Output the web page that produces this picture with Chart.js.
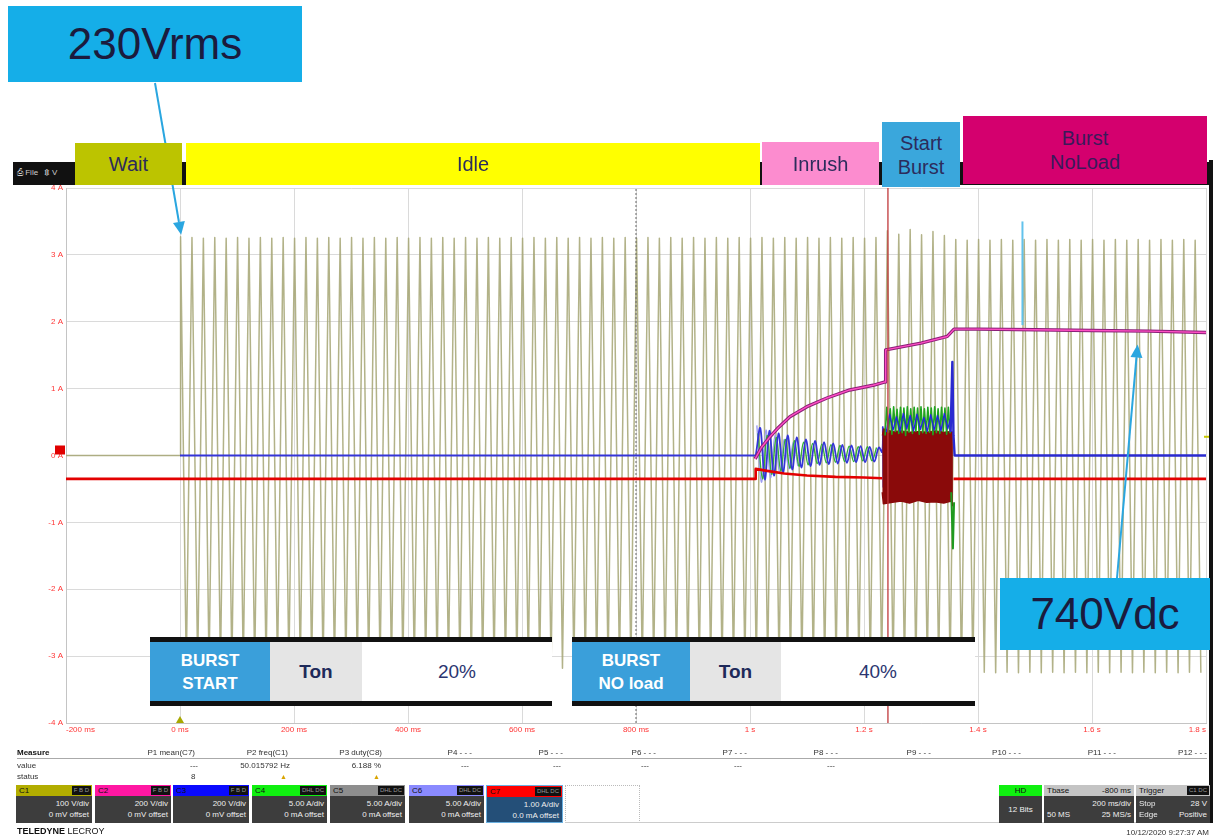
<!DOCTYPE html>
<html><head><meta charset="utf-8">
<script src="https://cdn.jsdelivr.net/npm/chart.js@4.4.1/dist/chart.umd.min.js"></script>
<style>
html,body{margin:0;padding:0;background:#fff;}
#wrap{position:relative;width:1216px;height:839px;overflow:hidden;font-family:"Liberation Sans",Arial,sans-serif;}
#c{position:absolute;left:0;top:0;}
.abs{position:absolute;box-sizing:border-box;}
.lbl{position:absolute;box-sizing:border-box;display:flex;align-items:center;justify-content:center;text-align:center;font-size:20px;line-height:24px;color:#2c2c5c;}
.big{font-size:44px;color:#1b1b3e;}
.tbl{position:absolute;top:637px;height:69px;border-top:5px solid #111;border-bottom:5px solid #111;box-sizing:border-box;display:flex;background:#fff;}
.tbl div{display:flex;align-items:center;justify-content:center;text-align:center;}
.tb{background:#3a9fda;color:#fff;font-weight:bold;font-size:17px;line-height:23px;}
.tg{background:#e5e5e5;color:#1e2a5a;font-weight:bold;font-size:19px;}
.tw{color:#2b3570;font-size:19px;flex:1;}
.sm{position:absolute;font-size:8px;line-height:10px;color:#333;white-space:nowrap;}
.r{text-align:right;}
.ch{position:absolute;top:785px;height:38px;font-size:8px;box-sizing:border-box;}
.chh{height:11px;position:relative;padding-left:3px;line-height:11px;color:#111;}
.bdg{position:absolute;right:1px;top:1px;height:9px;background:#111;color:#999;font-size:6px;line-height:9px;padding:0 2px;font-weight:normal;}
.chb{background:#3d3d3d;color:#eee;text-align:right;padding:2px 3px 0 0;height:27px;box-sizing:border-box;line-height:11px;}
</style></head>
<body>
<div id="wrap">
<canvas id="c" width="1216" height="839"></canvas>

<!-- toolbar strip -->
<div class="abs" style="left:13px;top:162px;width:1199px;height:23px;background:#111;"></div>
<div class="sm" style="left:17px;top:168px;color:#ccc;">&#9113; File &nbsp; &#8661; V</div>
<div class="abs" style="left:1209px;top:160px;width:4px;height:663px;background:#111;"></div>

<!-- phase labels -->
<div class="lbl" style="left:75px;top:143px;width:107px;height:42px;background:#bcc400;">Wait</div>
<div class="lbl" style="left:186px;top:143px;width:574px;height:42px;background:#ffff00;">Idle</div>
<div class="lbl" style="left:762px;top:142px;width:117px;height:43px;background:#fc8ccf;">Inrush</div>
<div class="lbl" style="left:882px;top:122px;width:78px;height:65px;background:#3aa7dc;">Start<br>Burst</div>
<div class="lbl" style="left:963px;top:116px;width:244px;height:68px;background:#d4006e;color:#3a1a5a;">Burst<br>NoLoad</div>

<div class="lbl big" style="left:8px;top:6px;width:294px;height:76px;background:#15aee8;">230Vrms</div>
<div class="lbl big" style="left:1000px;top:578px;width:210px;height:72px;background:#15aee8;">740Vdc</div>

<!-- burst tables -->
<div class="tbl" style="left:150px;width:402px;">
  <div class="tb" style="width:120px;">BURST<br>START</div>
  <div class="tg" style="width:92px;">Ton</div>
  <div class="tw">20%</div>
</div>
<div class="tbl" style="left:572px;width:403px;">
  <div class="tb" style="width:118px;">BURST<br>NO load</div>
  <div class="tg" style="width:91px;">Ton</div>
  <div class="tw">40%</div>
</div>

<!-- measure table -->
<div class="abs" style="left:17px;top:758px;width:1190px;height:1px;background:#aaa;"></div>
<div class="sm" style="left:17px;top:748px;font-weight:bold;color:#111;">Measure</div>
<div class="sm" style="left:17px;top:761px;">value</div>
<div class="sm" style="left:17px;top:772px;">status</div>
<div class="sm r" style="left:95px;width:100px;top:748px;">P1 mean(C7)</div>
<div class="sm r" style="left:188px;width:100px;top:748px;">P2 freq(C1)</div>
<div class="sm r" style="left:282px;width:100px;top:748px;">P3 duty(C8)</div>
<div class="sm r" style="left:372px;width:100px;top:748px;">P4 - - -</div>
<div class="sm r" style="left:463px;width:100px;top:748px;">P5 - - -</div>
<div class="sm r" style="left:556px;width:100px;top:748px;">P6 - - -</div>
<div class="sm r" style="left:647px;width:100px;top:748px;">P7 - - -</div>
<div class="sm r" style="left:738px;width:100px;top:748px;">P8 - - -</div>
<div class="sm r" style="left:831px;width:100px;top:748px;">P9 - - -</div>
<div class="sm r" style="left:921px;width:100px;top:748px;">P10 - - -</div>
<div class="sm r" style="left:1016px;width:100px;top:748px;">P11 - - -</div>
<div class="sm r" style="left:1107px;width:100px;top:748px;">P12 - - -</div>
<div class="sm r" style="left:98px;width:100px;top:761px;">---</div>
<div class="sm r" style="left:190px;width:100px;top:761px;">50.015792 Hz</div>
<div class="sm r" style="left:281px;width:100px;top:761px;">6.188 %</div>
<div class="sm" style="left:461px;top:761px;">---</div>
<div class="sm" style="left:553px;top:761px;">---</div>
<div class="sm" style="left:641px;top:761px;">---</div>
<div class="sm" style="left:734px;top:761px;">---</div>
<div class="sm" style="left:827px;top:761px;">---</div>
<div class="sm" style="left:191px;top:772px;">8</div>
<div class="sm" style="left:280px;top:772px;color:#d9a400;font-size:7px;">&#9650;</div>
<div class="sm" style="left:373px;top:772px;color:#d9a400;font-size:7px;">&#9650;</div>

<!-- channel boxes -->
<div class="ch" style="left:16px;width:76px;"><div class="chh" style="background:#b2ad00;">C1<b class="bdg">F B D</b></div><div class="chb">100 V/div<br>0 mV offset</div></div>
<div class="ch" style="left:95px;width:76px;"><div class="chh" style="background:#ff17a2;">C2<b class="bdg">F B D</b></div><div class="chb">200 V/div<br>0 mV offset</div></div>
<div class="ch" style="left:173px;width:76px;"><div class="chh" style="background:#0a0aff;">C3<b class="bdg">F B D</b></div><div class="chb">200 V/div<br>0 mV offset</div></div>
<div class="ch" style="left:252px;width:75px;"><div class="chh" style="background:#10f010;">C4<b class="bdg">DHL DC</b></div><div class="chb">5.00 A/div<br>0 mA offset</div></div>
<div class="ch" style="left:330px;width:75px;"><div class="chh" style="background:#8e8e8e;">C5<b class="bdg">DHL DC</b></div><div class="chb">5.00 A/div<br>0 mA offset</div></div>
<div class="ch" style="left:409px;width:75px;"><div class="chh" style="background:#8a8aff;">C6<b class="bdg">DHL DC</b></div><div class="chb">5.00 A/div<br>0 mA offset</div></div>
<div class="ch" style="left:486px;width:77px;border:1px solid #6ab0e0;"><div class="chh" style="background:#ff0000;">C7<b class="bdg">DHL DC</b></div><div class="chb" style="background:#244f78;height:25px;">1.00 A/div<br>0.0 mA offset</div></div>
<div class="abs" style="left:565px;top:785px;width:75px;height:38px;border:1px dotted #bbb;"></div>
<div class="abs" style="left:565px;top:822px;width:644px;height:1px;background:#ccc;"></div>

<div class="ch" style="left:999px;width:43px;"><div class="chh" style="background:#10f010;text-align:center;padding:0;">HD</div><div class="chb" style="text-align:center;padding:8px 0 0 0;">12 Bits</div></div>
<div class="ch" style="left:1044px;width:90px;"><div class="chh" style="background:#c4c4c4;">Tbase<span style="position:absolute;right:3px;">-800 ms</span></div><div class="chb" style="position:relative;">200 ms/div<br><span style="position:absolute;left:3px;">50 MS</span>25 MS/s</div></div>
<div class="ch" style="left:1136px;width:74px;"><div class="chh" style="background:#c4c4c4;">Trigger<b class="bdg">C1 DC</b></div><div class="chb" style="position:relative;"><span style="position:absolute;left:3px;">Stop</span>28 V<br><span style="position:absolute;left:3px;">Edge</span>Positive</div></div>

<div class="sm" style="left:17px;top:826px;font-size:9px;color:#111;"><b>TELEDYNE</b> LECROY</div>
<div class="sm r" style="left:1009px;width:200px;top:828px;">10/12/2020 9:27:37 AM</div>
</div>

<script>
// ---------- axis ticks ----------
const xTickValues = [-200, 0, 200, 400, 600, 800, 1000, 1200, 1400, 1600, 1800];
const xTickLabels = ['-200 ms', '0 ms', '200 ms', '400 ms', '600 ms', '800 ms', '1 s', '1.2 s', '1.4 s', '1.6 s', '1.8 s'];
const yTickValues = [-4, -3, -2, -1, 0, 1, 2, 3, 4];
const yTickLabels = ['-4 A', '-3 A', '-2 A', '-1 A', '0 A', '1 A', '2 A', '3 A', '4 A'];

// ---------- C1 (olive): zero before 0 ms, then 50 Hz cycles ----------
const c1FlatTimes = [-200, 0];
const c1FlatValues = [0, 0];
const c1FirstPeakTime = 1;      // ms
const c1HalfPeriod = 10;        // ms, 50 Hz
const c1Peaks = [
  3.27, 3.26, 3.25, 3.26, 3.25, 3.26, 3.25, 3.26, 3.25, 3.26,
  3.25, 3.26, 3.25, 3.26, 3.25, 3.26, 3.25, 3.26, 3.25, 3.26,
  3.25, 3.26, 3.25, 3.26, 3.25, 3.26, 3.25, 3.26, 3.25, 3.26,
  3.25, 3.26, 3.25, 3.26, 3.25, 3.26, 3.25, 3.26, 3.25, 3.26,
  3.25, 3.26, 3.25, 3.26, 3.25, 3.26, 3.25, 3.26, 3.25, 3.26,
  3.25, 3.26, 3.25, 3.26, 3.25, 3.26, 3.25, 3.26, 3.25, 3.26,
  3.25, 3.26, 3.36, 3.31, 3.38, 3.30, 3.35, 3.29, 3.23, 3.22,
  3.23, 3.22, 3.23, 3.22, 3.23, 3.22, 3.23, 3.22, 3.23, 3.22,
  3.23, 3.22, 3.23, 3.22, 3.23, 3.22, 3.23, 3.22, 3.23, 3.22
];
const c1Troughs = [
  -3.19, -3.18, -3.19, -3.18, -3.19, -3.18, -3.19, -3.18, -3.19, -3.18,
  -3.19, -3.18, -3.19, -3.18, -3.19, -3.18, -3.19, -3.18, -3.19, -3.18,
  -3.19, -3.18, -3.19, -3.18, -3.19, -3.18, -3.19, -3.18, -3.19, -3.18,
  -3.19, -3.18, -3.19, -3.18, -3.19, -3.18, -3.19, -3.18, -3.19, -3.18,
  -3.19, -3.18, -3.19, -3.18, -3.19, -3.18, -3.19, -3.18, -3.19, -3.18,
  -3.19, -3.18, -3.19, -3.18, -3.19, -3.18, -3.19, -3.18, -3.19, -3.18,
  -3.19, -3.18, -3.22, -3.21, -3.22, -3.21, -3.22, -3.21, -3.24, -3.25,
  -3.24, -3.25, -3.24, -3.25, -3.24, -3.25, -3.24, -3.25, -3.24, -3.25,
  -3.24, -3.25, -3.24, -3.25, -3.24, -3.25, -3.24, -3.25, -3.24, -3.25
];

// ---------- C3 (blue) ----------
const c3FlatTimes = [0, 1009];
const c3FlatValues = [0, 0];
const c3InrushStart = 1010;     // ms, extremes every 8 ms
const c3Inrush = [0.0, 0.41, -0.36, 0.37, -0.30, 0.33, -0.25, 0.30, -0.21, 0.27, -0.18, 0.24, -0.16, 0.22,
                  -0.14, 0.20, -0.13, 0.18, -0.12, 0.16, -0.11, 0.15, -0.10, 0.14, -0.10, 0.13, -0.09, 0.12];
const c3EdgeTimes = [1232, 1233, 1234];
const c3EdgeValues = [0.05, 0.42, -0.48];
const c3BurstStart = 1239;      // ms, extremes every 6 ms
const c3Burst = [0.35, 0.62, 0.38, 0.58, 0.36, 0.63, 0.40, 0.60, 0.37, 0.62,
                 0.39, 0.57, 0.36, 0.61, 0.38, 0.60, 0.37, 0.63, 0.40, 0.59];
const c3EndTimes = [1352, 1355, 1357, 1359, 1800];
const c3EndValues = [0.35, 1.40, 0.30, 0.0, 0.0];

// ---------- C4 (green) ----------
const c4InrushStart = 1014;
const c4Inrush = [0.33, -0.35, 0.30, -0.28, 0.27, -0.23, 0.24, -0.19, 0.22, -0.16, 0.20, -0.14, 0.18, -0.12,
                  0.17, -0.11, 0.16, -0.10, 0.15, -0.09, 0.14, -0.09, 0.13, -0.08, 0.13, -0.08, 0.12];
const c4BurstStart = 1237;      // ms, extremes every 3 ms
const c4Burst = [0.30, 0.72, 0.35, 0.70, 0.32, 0.73, 0.36, 0.69, 0.33, 0.72,
                 0.34, 0.71, 0.30, 0.73, 0.35, 0.70, 0.33, 0.72, 0.36, 0.71,
                 0.32, 0.73, 0.34, 0.70, 0.33, 0.72, 0.35, 0.71, 0.31, 0.73,
                 0.34, 0.70, 0.33, 0.72, 0.36, 0.71, 0.32, 0.72, 0.34, 0.70];
const c4SpikeTimes = [1353, 1356, 1358];
const c4SpikeValues = [-0.55, -1.39, -0.70];

// ---------- C6 (lavender) ----------
const c6InrushStart = 1012;
const c6Inrush = [0.45, -0.40, 0.38, -0.33, 0.30, -0.26, 0.24, -0.20, 0.20, -0.16];

// ---------- C7 (red) ----------
const c7Times = [-200, 1009, 1010, 1030, 1060, 1100, 1150, 1200, 1232];
const c7Values = [-0.35, -0.35, -0.20, -0.23, -0.27, -0.30, -0.32, -0.33, -0.34];
const c7AfterTimes = [1357, 1800];
const c7AfterValues = [-0.35, -0.35];
const c7BurstTimes = [1232, 1234, 1250, 1265, 1280, 1295, 1310, 1325, 1340, 1353, 1356];
const c7BurstTop = [0.30, 0.40, 0.36, 0.37, 0.35, 0.36, 0.35, 0.37, 0.35, 0.36, 0.35];
const c7BurstBottom = [-0.55, -0.72, -0.70, -0.68, -0.71, -0.67, -0.70, -0.69, -0.71, -0.68, -0.76];

// ---------- C2 (magenta) ----------
const c2Times = [1009, 1020, 1035, 1050, 1070, 1100, 1135, 1175, 1216, 1237, 1238, 1300, 1346, 1358, 1400, 1500, 1600, 1700, 1800];
const c2Values = [-0.05, 0.12, 0.28, 0.42, 0.58, 0.73, 0.86, 0.98, 1.05, 1.10, 1.58, 1.68, 1.78, 1.89, 1.89, 1.88, 1.87, 1.86, 1.84];

// ---------- markers ----------
const triggerTime = 1242;
const centerTime = 800;
const arrow230Tip = { t: 2, v: 3.30 };
const arrow740Tip = { t: 1680, v: 1.66 };
const cursorLine = { t: 1478, v1: 3.5, v2: 1.95 };

// ---------- build ----------
function pts(ts, vs) { return ts.map((t, i) => ({ x: t, y: vs[i] })); }
function stepPts(start, step, vs) { return vs.map((v, i) => ({ x: start + i * step, y: v })); }

const c1Data = pts(c1FlatTimes, c1FlatValues);
c1Peaks.forEach((p, k) => {
  const t0 = c1FirstPeakTime + k * 2 * c1HalfPeriod;
  c1Data.push({ x: t0, y: p });
  c1Data.push({ x: t0 + c1HalfPeriod, y: c1Troughs[k] });
});

const c3Data = [].concat(pts(c3FlatTimes, c3FlatValues), stepPts(c3InrushStart, 8, c3Inrush),
  pts(c3EdgeTimes, c3EdgeValues));
const c3BurstData = stepPts(c3BurstStart, 6, c3Burst);
const c3EndData = pts(c3EndTimes, c3EndValues);

const base = { pointRadius: 0, fill: false, tension: 0, borderJoinStyle: 'round' };
const datasets = [
  Object.assign({}, base, { label: 'C2o', data: pts(c2Times, c2Values), borderColor: '#8a1f78', borderWidth: 3.4, order: 3 }),
  Object.assign({}, base, { label: 'C2', data: pts(c2Times, c2Values), borderColor: '#ff4fc4', borderWidth: 1.4, order: 2 }),
  Object.assign({}, base, { label: 'C7', data: pts(c7Times, c7Values), borderColor: '#e30000', borderWidth: 2.6, order: 5 }),
  Object.assign({}, base, { label: 'C7b', data: pts(c7AfterTimes, c7AfterValues), borderColor: '#e30000', borderWidth: 2.6, order: 5 }),
  Object.assign({}, base, { label: 'burstTop', data: pts(c7BurstTimes, c7BurstTop), borderColor: '#8a0a0a', borderWidth: 1, fill: '+1', backgroundColor: '#8a0a0a', order: 10 }),
  Object.assign({}, base, { label: 'burstBot', data: pts(c7BurstTimes, c7BurstBottom), borderColor: '#8a0a0a', borderWidth: 1.5, order: 10 }),
  Object.assign({}, base, { label: 'C4burst', data: stepPts(c4BurstStart, 3, c4Burst), borderColor: '#1fa51f', borderWidth: 1.6, order: 8 }),
  Object.assign({}, base, { label: 'C3burst', data: c3BurstData, borderColor: '#2424e0', borderWidth: 1.3, order: 7 }),
  Object.assign({}, base, { label: 'C4spike', data: pts(c4SpikeTimes, c4SpikeValues), borderColor: '#1f9a1f', borderWidth: 2, order: 6 }),
  Object.assign({}, base, { label: 'C3end', data: c3EndData, borderColor: '#2a2ad0', borderWidth: 2.4, order: 6 }),
  Object.assign({}, base, { label: 'C3', data: c3Data, borderColor: '#3434d8', borderWidth: 1.8, order: 12, tension: 0.35 }),
  Object.assign({}, base, { label: 'C4', data: stepPts(c4InrushStart, 8, c4Inrush), borderColor: '#34b034', borderWidth: 1.4, order: 13, tension: 0.35 }),
  Object.assign({}, base, { label: 'C6', data: stepPts(c6InrushStart, 8, c6Inrush), borderColor: '#9c9cf2', borderWidth: 1.4, order: 14, tension: 0.35 }),
  Object.assign({}, base, { label: 'trigger', data: [{ x: triggerTime, y: -4 }, { x: triggerTime, y: 4 }], borderColor: '#c0383a', borderWidth: 1.3, order: 1 }),
  Object.assign({}, base, { label: 'center', data: [{ x: centerTime, y: -4 }, { x: centerTime, y: 4 }], borderColor: '#666', borderWidth: 1, borderDash: [2, 2], order: 19 }),
  Object.assign({}, base, { label: 'C1', data: c1Data, borderColor: 'rgba(165,165,115,0.85)', borderWidth: 1.5, order: 20 })
];

function arrow(ctx, x1, y1, x2, y2) {
  const a = Math.atan2(y2 - y1, x2 - x1), L = 13, W = 6;
  const bx = x2 - L * Math.cos(a), by = y2 - L * Math.sin(a);
  ctx.beginPath(); ctx.moveTo(x1, y1); ctx.lineTo(bx, by); ctx.stroke();
  ctx.beginPath(); ctx.moveTo(x2, y2);
  ctx.lineTo(bx + W * Math.sin(a), by - W * Math.cos(a));
  ctx.lineTo(bx - W * Math.sin(a), by + W * Math.cos(a));
  ctx.closePath(); ctx.fill();
}

const annotPlugin = {
  id: 'annot',
  afterDraw(chart) {
    const { ctx, scales: { x, y }, chartArea } = chart;
    ctx.save();
    ctx.strokeStyle = '#2aa6e0'; ctx.fillStyle = '#2aa6e0'; ctx.lineWidth = 2;
    arrow(ctx, 155, 83, x.getPixelForValue(arrow230Tip.t), y.getPixelForValue(arrow230Tip.v));
    arrow(ctx, 1117, 578, x.getPixelForValue(arrow740Tip.t), y.getPixelForValue(arrow740Tip.v));
    ctx.strokeStyle = '#62c2ec'; ctx.lineWidth = 2;
    ctx.beginPath();
    ctx.moveTo(x.getPixelForValue(cursorLine.t), y.getPixelForValue(cursorLine.v1));
    ctx.lineTo(x.getPixelForValue(cursorLine.t), y.getPixelForValue(cursorLine.v2));
    ctx.stroke();
    // channel / trigger markers
    ctx.fillStyle = '#e00000';
    ctx.fillRect(chartArea.left - 11, y.getPixelForValue(0) - 10, 10, 9);
    ctx.fillStyle = '#a8a800';
    const tx = x.getPixelForValue(0);
    ctx.beginPath(); ctx.moveTo(tx, chartArea.bottom - 7); ctx.lineTo(tx - 4, chartArea.bottom); ctx.lineTo(tx + 4, chartArea.bottom); ctx.closePath(); ctx.fill();
    ctx.fillStyle = '#c8c800';
    ctx.fillRect(chartArea.right - 2, y.getPixelForValue(0.28) - 1, 5, 2);
    ctx.restore();
  }
};

new Chart(document.getElementById('c'), {
  type: 'line',
  data: { datasets },
  options: {
    responsive: false, animation: false, devicePixelRatio: 1,
    layout: { padding: { left: 0, top: 188, right: 10, bottom: 0 } },
    plugins: { legend: { display: false }, tooltip: { enabled: false } },
    scales: {
      x: {
        type: 'linear', min: -200, max: 1800,
        afterBuildTicks: s => { s.ticks = xTickValues.map(v => ({ value: v })); },
        afterFit: s => { s.height = 116; },
        ticks: { color: '#ff3535', font: { size: 8, family: 'Liberation Sans' }, padding: 2, maxRotation: 0, autoSkip: false, align: 'inner',
                 callback: v => xTickLabels[xTickValues.indexOf(v)] },
        grid: { color: '#dadada', drawTicks: false },
        border: { color: '#c4c4c4' }
      },
      y: {
        type: 'linear', min: -4, max: 4,
        afterBuildTicks: s => { s.ticks = yTickValues.map(v => ({ value: v })); },
        afterFit: s => { s.width = 66; },
        ticks: { color: '#ff3535', font: { size: 8, family: 'Liberation Sans' }, padding: 3, autoSkip: false,
                 callback: v => yTickLabels[yTickValues.indexOf(v)] },
        grid: { color: '#dadada', drawTicks: false },
        border: { color: '#c4c4c4' }
      }
    }
  },
  plugins: [annotPlugin]
});
</script>
</body></html>
